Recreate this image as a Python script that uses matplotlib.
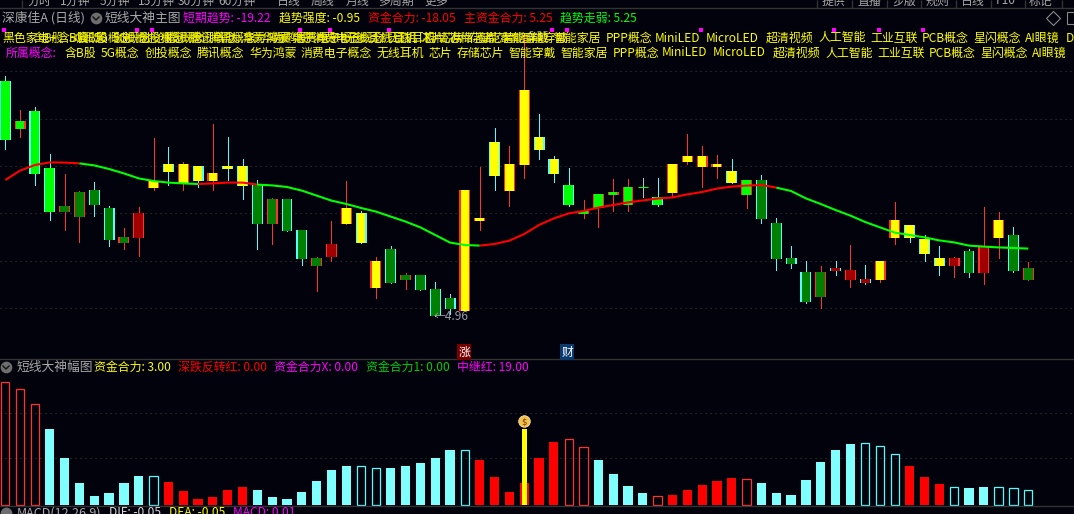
import matplotlib
matplotlib.use("Agg")
import matplotlib.pyplot as plt
import numpy as np

plt.rcParams['font.family'] = ['Noto Sans CJK SC', 'DejaVu Sans']

# ---------- data ----------
high = [6.135,5.965,5.98,5.745,5.645,5.56,5.605,5.485,5.375,5.48,5.825,5.78,5.705,5.685,5.895,5.83,5.72,5.615,5.525,5.52,
        5.365,5.23,5.41,5.61,5.46,5.23,5.285,5.15,5.14,5.105,5.045,5.565,5.68,5.875,5.785,6.35,5.945,5.735,5.675,5.515,
        5.545,5.62,5.62,5.625,5.625,5.695,5.845,5.785,5.74,5.72,5.615,5.64,5.425,5.285,5.21,5.185,5.21,5.29,5.19,5.21,
        5.505,5.39,5.34,5.285,5.23,5.27,5.48,5.455,5.38,5.205]
body_top = [6.11,5.91,5.96,5.675,5.485,5.555,5.565,5.475,5.33,5.45,5.61,5.695,5.695,5.685,5.65,5.685,5.685,5.59,5.52,5.52,
            5.365,5.225,5.295,5.475,5.45,5.21,5.27,5.14,5.14,5.07,5.025,5.565,5.425,5.805,5.695,6.065,5.83,5.72,5.59,5.46,
            5.545,5.555,5.58,5.58,5.53,5.695,5.735,5.735,5.695,5.66,5.615,5.615,5.40,5.225,5.155,5.155,5.175,5.165,5.12,5.21,
            5.415,5.39,5.32,5.225,5.225,5.26,5.28,5.415,5.34,5.175]
body_bot = [5.813,5.87,5.647,5.457,5.455,5.43,5.49,5.315,5.30,5.325,5.575,5.655,5.60,5.61,5.61,5.67,5.585,5.395,5.395,5.36,
            5.22,5.185,5.23,5.395,5.30,5.075,5.10,5.115,5.065,4.935,4.97,4.96,5.41,5.635,5.56,5.69,5.765,5.645,5.49,5.445,
            5.475,5.54,5.49,5.575,5.49,5.55,5.705,5.68,5.68,5.60,5.54,5.42,5.22,5.195,5.005,5.03,5.16,5.115,5.10,5.115,
            5.325,5.325,5.245,5.185,5.185,5.15,5.15,5.325,5.16,5.115]
low = [5.77,5.83,5.59,5.415,5.365,5.305,5.435,5.285,5.27,5.235,5.565,5.59,5.565,5.58,5.565,5.615,5.52,5.27,5.295,5.36,
       5.19,5.06,5.21,5.395,5.298,5.025,5.10,5.07,5.065,4.935,4.945,4.96,5.365,5.565,5.485,5.625,5.72,5.605,5.485,5.425,
       5.38,5.46,5.46,5.53,5.485,5.53,5.695,5.58,5.625,5.60,5.475,5.40,5.165,5.175,5.00,4.975,5.14,5.08,5.095,5.105,
       5.295,5.305,5.21,5.14,5.13,5.13,5.095,5.225,5.155,5.115]
edges = ("crccrrccrr" "rcrcrcccrc" "crrrcrcrcc" "crrcrrcccr" "rrrgcrrrrc" "rccccrcrcr" "rcccrcrrcr")
kinds = ("GGGGDDDDDR" "YYYYYYYDDD" "DDRYYYDDDD" "DYYYYYYYGG" "GGGGGYYYYY" "GDDDDDRRRY" "YYYYRDRYDD")
ma5 = [5.615,5.662,5.69,5.703,5.702,5.698,5.688,5.67,5.648,5.623,5.61,5.602,5.598,5.595,5.598,5.602,5.602,5.592,5.588,5.58,
       5.562,5.537,5.512,5.495,5.475,5.457,5.432,5.407,5.378,5.34,5.302,5.29,5.287,5.295,5.312,5.345,5.39,5.423,5.448,5.46,
       5.477,5.49,5.503,5.513,5.522,5.528,5.543,5.555,5.572,5.582,5.587,5.59,5.577,5.56,5.523,5.495,5.465,5.437,5.405,5.378,
       5.352,5.34,5.328,5.313,5.303,5.287,5.282,5.278,5.275,5.272]
ma_spans = [(0,5,'r'),(5,13,'g'),(13,17,'r'),(17,32,'g'),(32,52,'r'),(52,69,'g')]

fund = [24.7,23.3,20.3,15.2,9.4,4.4,1.8,2.4,4.4,5.8,5.8,4.6,2.8,1.2,1.6,3.0,3.6,3.0,1.6,1.2,
        2.6,4.8,7.0,7.8,7.8,7.4,7.4,7.8,8.4,9.4,11.0,11.0,9.0,5.6,2.6,4.4,9.4,12.6,13.2,11.6,
        9.0,6.2,3.8,2.4,1.8,2.0,3.0,4.0,4.8,5.4,5.2,4.4,2.4,2.0,5.0,8.6,11.0,12.2,12.4,11.8,
        10.2,7.8,5.6,4.2,3.6,3.4,3.6,3.6,3.4,3.0]
fund_style = ("HHHCCCCCCC" "ORRRRRRCCC" "CCCCOOCCCC" "CORRRRRRHH" "CCCCHRRRRR" "HCCCCCCCOO" "ORRROCCOOO")
relay_index, relay_value = 35, 15.2

concepts = ["含B股","5G概念","创投概念","腾讯概念","华为鸿蒙","消费电子概念","无线耳机","芯片","存储芯片","智能穿戴","智能家居",
            "PPP概念","MiniLED","MicroLED","超清视频","人工智能","工业互联","PCB概念","星闪概念","AI眼镜"]
low_label = "←4.96"
high_label = "6.35"

# ---------- style ----------
BG = '#02020C'
FILL = {'G':'#00FF00','D':'#008000','Y':'#FFFF00','R':'#A00000'}
EDGE = {'c':'#54FCFC','r':'#FF3232','g':'#C0C0C0'}
GRID = '#3A3A30'
W, H = 1074, 514

fig = plt.figure(figsize=(W/100, H/100), dpi=100, facecolor=BG)
def panel(top, bottom):
    return fig.add_axes([0, 1-bottom/H, 1, (bottom-top)/H], facecolor=BG)

X0, DX = 5.3, 14.826
xlim = (-X0/DX, (W-X0)/DX)
idx = np.arange(len(high))

# main panel: 27..358 px
ax = panel(27, 358)
ax.set_xlim(*xlim); ax.set_ylim(6.515-358/200, 6.515-27/200)
ax.axis('off')
for g in [6.16,5.92,5.685,5.45,5.21,4.975]:
    ax.axhline(g, color=GRID, lw=0.8, ls=(0,(1,3.5)), zorder=1)

for i in idx:
    ec = EDGE[edges[i]]
    ax.vlines(i, low[i], high[i], color=ec, lw=0.72, zorder=2, antialiased=False)
    h = body_top[i]-body_bot[i]
    if h < 0.006:
        ax.hlines(body_top[i], i-0.33, i+0.33, color='#00FF00', lw=0.8, zorder=3)
    else:
        ax.bar(i, h, bottom=body_bot[i], width=0.74, color=ec, linewidth=0, zorder=3)
        ax.bar(i, h, bottom=body_bot[i], width=0.58, color=FILL[kinds[i]], linewidth=0, zorder=3.1)
for a, b, c in ma_spans:
    ax.plot(idx[a:b+1], ma5[a:b+1], color={'r':'#FF0000','g':'#00FF00'}[c], lw=1.5, zorder=4, solid_capstyle='butt')

# lower panel: 360..506 px
ax2 = panel(360, 506)
ax2.set_xlim(*xlim); ax2.set_ylim(-0.2, 29)
ax2.axis('off')
for g in [9.4, 18.4]:
    ax2.axhline(g, color=GRID, lw=0.8, ls=(0,(1,3.5)), zorder=1)
for i, v in enumerate(fund):
    s = fund_style[i]
    if s in 'RC':
        ax2.bar(i, v, width=0.62, color={'R':'#FF0000','C':'#80FFFF'}[s], linewidth=0, zorder=2)
    else:
        ax2.bar(i, v, width=0.56, facecolor='none', edgecolor={'H':'#FF3232','O':'#54FCFC'}[s], linewidth=0.9, zorder=2)
ax2.bar(relay_index, relay_value, width=0.33, color='#FFFF00', linewidth=0, zorder=3)
ax2.scatter([relay_index], [relay_value+1.6], s=70, color='#F2C14E', edgecolor='#FFF2C0', linewidth=0.5, zorder=4)
ax2.text(relay_index, relay_value+1.5, '$', color='#7A3B00', fontsize=6, ha='center', va='center', zorder=5, family='DejaVu Sans')

# overlay in pixel coordinates for chrome and labels
ov = fig.add_axes([0,0,1,1], facecolor='none')
ov.set_xlim(0, W); ov.set_ylim(H, 0); ov.axis('off')
for y in [8, 359, 506]:
    ov.axhline(y, color='#333333', lw=1)
def t(x, y, s, c, fs=8.6, **k):
    ov.text(x, y, s, color=c, fontsize=fs, va='center', ha=k.pop('ha','left'), **k)

# clipped toolbar
for x, s in [(27,'分时'),(60,'1分钟'),(100,'5分钟'),(138,'15分钟'),(178,'30分钟'),(218,'60分钟'),(277,'日线'),(311,'周线'),(346,'月线'),(378,'多周期'),(424,'更多')]:
    t(x, 1, s, '#A8A8A8')
for x, s in [(822,'提供'),(857,'直播'),(892,'步版'),(926,'规则'),(961,'日线'),(996,'F10'),(1029,'标记')]:
    t(x, 1, s, '#A8A8A8')
for x in [22, 817, 852, 887, 921, 956, 991, 1025, 1062]:
    ov.vlines(x, 0, 8, color='#333333', lw=1)

# header
t(2, 18, '深康佳A (日线)', '#A8A8A8', 9.2)
ov.scatter([96],[18], s=55, color='#6E6E6E', zorder=5)
ov.plot([93,96,99],[17,20,17], color='#111111', lw=1, zorder=6)
t(105, 18, '短线大神主图', '#A8A8A8', 9.2)
t(183, 18, '短期趋势: -19.22', '#FF00FF')
t(279, 18, '趋势强度: -0.95', '#FFFF00')
t(368, 18, '资金合力: -18.05', '#FF0000')
t(464, 18, '主资金合力: 5.25', '#FF0000')
t(560, 18, '趋势走弱: 5.25', '#00FF00')
ov.plot([1053],[18], marker='D', ms=7, mfc='none', mec='#888888', mew=0.8, ls='')
ov.plot([1073],[18], marker='s', ms=8, mfc='none', mec='#888888', mew=0.8, ls='')

# magenta dots
ov.scatter([4,137,152,300,330,389,552,567,701,834,879,923],[30]*12, s=7, marker='s', color='#FF00FF', linewidth=0)

# high label under the concept text
t(527, 36, high_label, '#9A9AA8', 8)

# concept rows
row_x = [65,101,145,197,249,301,377,429,457,509,561,613,662,713,773,825,877,929,980,1032]
t(6, 53, '所属概念:', '#FF00FF', 8.6)
for x, s in zip(row_x, concepts):
    t(x, 53, s, '#FFFF00')
t(2, 38, '黑色家电+', '#FFFF00')
for x, s in zip(row_x, concepts):
    t(x-7, 38, s, '#FFFF00')
    if x < 520:
        t(x+12, 38, s, '#FFFF00')
        t(x-32, 38, s, '#E8E800')
t(1066, 38, 'D', '#FFFF00')

# annotation and badges
t(434, 316, low_label, '#9A9AA8', 8.6)
for x, c, s in [(464,'#7A0000','涨'),(567,'#0A3A70','财')]:
    ov.text(x, 352, s, color='white', fontsize=8.5, ha='center', va='center',
            bbox=dict(boxstyle='square,pad=0.12', fc=c, ec='none'))

# lower header
ov.scatter([6],[367], s=55, color='#6E6E6E', zorder=5)
ov.plot([3,6,9],[366,369,366], color='#111111', lw=1, zorder=6)
t(17, 367, '短线大神幅图', '#A8A8A8', 9.2)
t(94, 367, '资金合力: 3.00', '#FFFF00')
t(178, 367, '深跌反转红: 0.00', '#FF0000')
t(274, 367, '资金合力X: 0.00', '#FF00FF')
t(366, 367, '资金合力1: 0.00', '#00D000')
t(457, 367, '中继红: 19.00', '#FF00FF')

# clipped MACD header
ov.scatter([6],[513], s=55, color='#6E6E6E', zorder=5)
t(17, 513, 'MACD(12.26.9)', '#A8A8A8', 9)
t(109, 513, 'DIF: -0.05', '#D8D8D8')
t(169, 513, 'DEA: -0.05', '#FFFF00')
t(233, 513, 'MACD: 0.01', '#FF00FF')

assert len(edges)==len(kinds)==len(high)==len(fund)==len(fund_style)==len(ma5)==70
fig.savefig('out.png', dpi=100, facecolor=BG)
